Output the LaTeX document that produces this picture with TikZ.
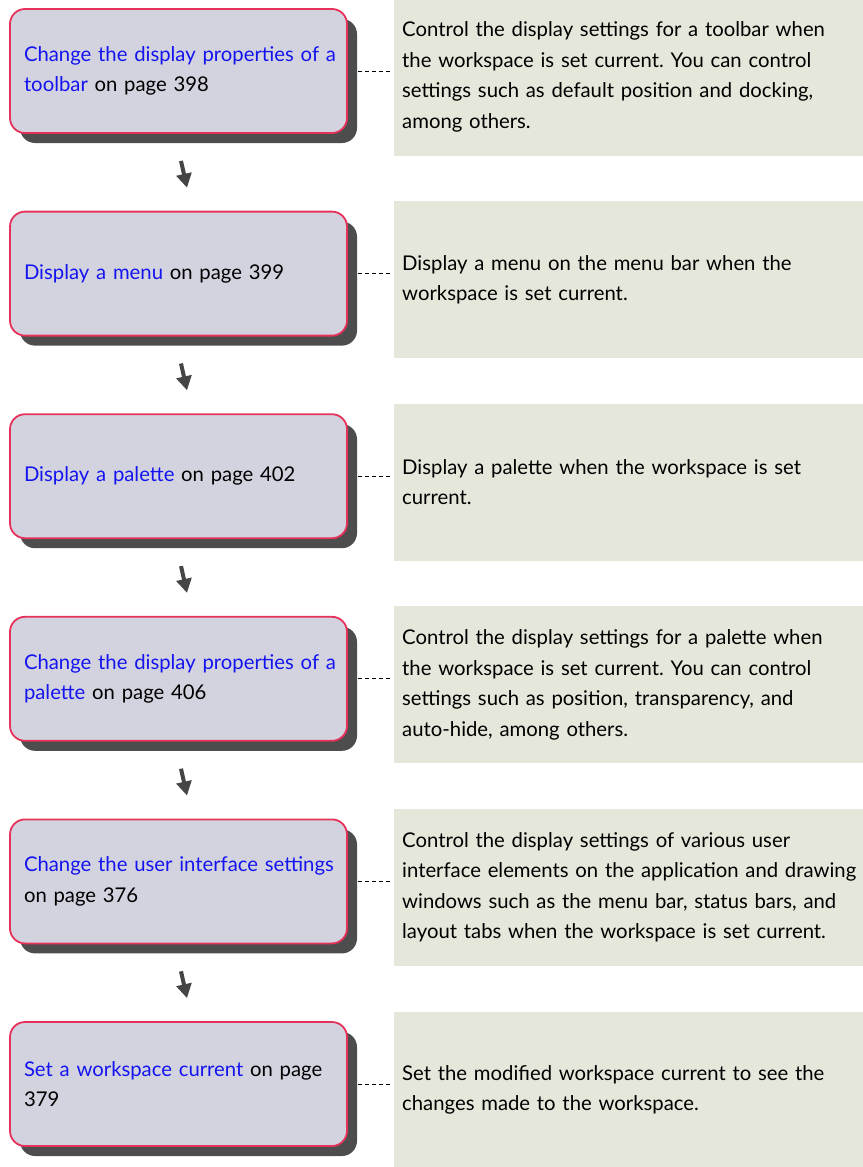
\documentclass[tikz,border=0pt]{standalone}
\usepackage{fontspec}
\setmainfont{Lato}
\usepackage{xcolor}
\usetikzlibrary{arrows.meta,calc,shadows}
\definecolor{lnk}{HTML}{1414F0}
\definecolor{taskfill}{HTML}{D3D3DF}
\definecolor{taskline}{HTML}{E6325A}
\definecolor{notefill}{HTML}{E4E7D9}
\definecolor{shd}{HTML}{4D4D4D}
\definecolor{arr}{HTML}{454545}
\tikzset{
  task/.style={draw=taskline,line width=1.8pt,fill=taskfill,rounded corners=15pt,
    minimum width=337pt,minimum height=124pt,text width=330pt,inner xsep=3.5pt,
    align=left,execute at begin node={\leftskip=10.5pt},
    drop shadow={shadow xshift=10pt,shadow yshift=-10pt,fill=shd,opacity=1}},
  note/.style={fill=notefill,minimum width=468pt,minimum height=157pt,
    text width=470pt,inner xsep=8pt,align=left,anchor=west},
  flow/.style={line width=4pt,arr,-{Triangle[length=14pt,width=15pt]}},
  tie/.style={line width=1pt,dash pattern=on 4pt off 3pt,shorten >=3pt}
}
\newcommand{\lnk}[1]{\textcolor{lnk}{#1}}
\newcommand{\txt}{\fontsize{20.3}{30.5}\selectfont\frenchspacing}

\begin{document}
\begin{tikzpicture}[x=1pt,y=-1pt,font=\txt]
\useasboundingbox (0,0) rectangle (862,1167);
% left column: tasks
\node[task] (task1) at (178.5,71) {\lnk{Change the display properties of a}\\\lnk{toolbar} on page 398};
\node[task] (task2) at (178.5,273.6) {\lnk{Display a menu} on page 399};
\node[task] (task3) at (178.5,476.2) {\lnk{Display a palette} on page 402};
\node[task] (task4) at (178.5,678.8) {\lnk{Change the display properties of a}\\\lnk{palette} on page 406};
\node[task] (task5) at (178.5,881.4) {\lnk{Change the user interface settings}\\on page 376};
\node[task] (task6) at (178.5,1084) {\lnk{Set a workspace current} on page\\379};
% right column: notes
\node[note] (note1) at (394,77) {Control the display settings for a toolbar when\\the workspace is set current. You can control\\settings such as default position and docking,\\among others.};
\node[note] (note2) at (394,279.6) {Display a menu on the menu bar when the\\workspace is set current.};
\node[note] (note3) at (394,482.2) {Display a palette when the workspace is set\\current.};
\node[note] (note4) at (394,684.8) {Control the display settings for a palette when\\the workspace is set current. You can control\\settings such as position, transparency, and\\auto-hide, among others.};
\node[note] (note5) at (394,887.4) {Control the display settings of various user\\interface elements on the application and drawing\\windows such as the menu bar, status bars, and\\layout tabs when the workspace is set current.};
\node[note] (note6) at (394,1090) {Set the modified workspace current to see the\\changes made to the workspace.};
% dashed ties
\foreach \i in {1,...,6}
  \draw[tie] ($(task\i.east)+(10,0)$) -- (task\i.east -| note\i.west);
% arrows
\draw[flow] ($(task1.south)+(2.5,27)$) -- ($(task2.north)+(8.5,-23)$);
\draw[flow] ($(task2.south)+(2.5,27)$) -- ($(task3.north)+(8.5,-23)$);
\draw[flow] ($(task3.south)+(2.5,27)$) -- ($(task4.north)+(8.5,-23)$);
\draw[flow] ($(task4.south)+(2.5,27)$) -- ($(task5.north)+(8.5,-23)$);
\draw[flow] ($(task5.south)+(2.5,27)$) -- ($(task6.north)+(8.5,-23)$);
\end{tikzpicture}
\end{document}
